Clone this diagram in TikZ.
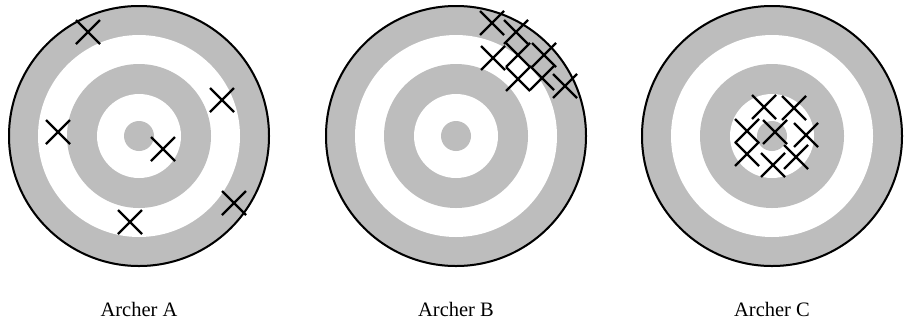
\documentclass[tikz,border=0pt]{standalone}
\usepackage{fontspec}
\setmainfont{Liberation Serif}
\begin{document}
\begin{tikzpicture}[x=1pt,y=-1pt,
  ringgray/.style={fill=black!26},
  ringwhite/.style={fill=white},
  rim/.style={draw=black,line width=2pt},
  lbl/.style={font=\fontsize{20.5}{24}\selectfont,anchor=base,inner sep=0pt},
  xcross/.pic={\draw[line width=2.2pt] (-12,-12) -- (12,12) (-12,12) -- (12,-12);}
]
\useasboundingbox (0,0) rectangle (904,325);
\fill[white] (0,0) rectangle (904,325);
\foreach \cx/\nm in {139/A,456/B,772/C}{
  \fill[ringgray] (\cx,136) circle (131);
  \fill[ringwhite] (\cx,136) circle (101);
  \fill[ringgray] (\cx,136) circle (72);
  \fill[ringwhite] (\cx,136) circle (42);
  \fill[ringgray] (\cx,136) circle (15);
  \draw[rim] (\cx,136) circle (130);
  \node[lbl] (label\nm) at (\cx,316) {Archer \nm};
}
% Archer A
\foreach \p in {(88,32),(222,100),(58,132),(163,149),(234,203),(130,222)}
  \pic at \p {xcross};
% Archer B
\foreach \p in {(492,23),(516,32),(493,58),(518,55),(544,55),(518,79),(542,78),(565,86)}
  \pic at \p {xcross};
% Archer C
\foreach \p in {(764,107),(794,108),(747,131),(775,132),(806,135),(747,154),(773,165),(796,157)}
  \pic at \p {xcross};
\end{tikzpicture}
\end{document}
